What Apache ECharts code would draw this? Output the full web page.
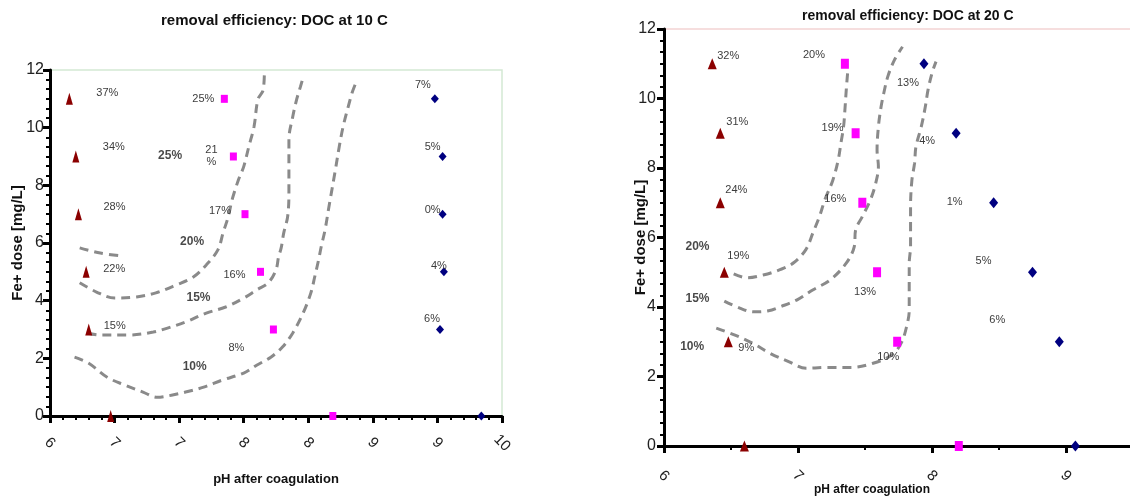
<!DOCTYPE html>
<html>
<head>
<meta charset="utf-8">
<script src="https://cdn.jsdelivr.net/npm/echarts@6/dist/echarts.min.js"></script>
<style>
html, body { margin: 0; padding: 0; background: #fff; }
#main { width: 1130px; height: 499px; }
</style>
</head>
<body>
<div id="main"></div>
<script>
// Fe doses of the jar tests, same for every series
var doses = [11, 9, 7, 5, 3, 0];

// ---- DOC at 10 C ----
var phTri10 = [6.45, 6.50, 6.52, 6.58, 6.60, 6.77];
var effTri10 = ['37%', '34%', '28%', '22%', '15%', ''];
var phSq10 = [7.65, 7.72, 7.81, 7.93, 8.03, 8.49];
var effSq10 = ['25%', '21\n%', '17%', '16%', '8%', ''];
var phDia10 = [9.28, 9.34, 9.34, 9.35, 9.32, 9.64];
var effDia10 = ['7%', '5%', '0%', '4%', '6%', ''];

// hand drawn isolines [pH, dose]
var isoA10 = [[6.53, 5.83], [6.69, 5.65], [6.86, 5.55]];
var isoB10 = [[6.53, 4.62], [6.66, 4.30], [6.80, 4.09], [6.97, 4.13], [7.12, 4.27], [7.28, 4.55], [7.41, 4.82],
  [7.51, 5.24], [7.60, 5.76], [7.64, 6.35], [7.68, 6.91], [7.71, 7.50], [7.76, 8.20], [7.80, 8.65], [7.84, 9.35],
  [7.88, 10.04], [7.91, 10.98], [7.95, 11.30], [7.96, 11.92]];
var isoC10 = [[6.59, 2.88], [6.68, 2.81], [6.91, 2.81], [7.10, 2.91], [7.21, 3.05], [7.35, 3.26], [7.51, 3.57],
  [7.66, 3.78], [7.80, 4.09], [7.90, 4.37], [7.99, 4.62], [8.05, 5.07], [8.07, 5.52], [8.09, 5.83], [8.11, 6.35],
  [8.14, 6.91], [8.15, 7.74], [8.15, 8.65], [8.15, 9.59], [8.18, 10.39], [8.21, 10.98], [8.24, 11.43], [8.26, 11.74]];
var isoD10 = [[6.49, 2.04], [6.60, 1.83], [6.74, 1.35], [6.88, 1.07], [7.02, 0.83], [7.13, 0.65], [7.24, 0.72],
  [7.35, 0.83], [7.49, 1.00], [7.63, 1.24], [7.80, 1.49], [7.90, 1.76], [8.01, 2.04], [8.10, 2.39], [8.18, 2.88],
  [8.26, 3.57], [8.32, 4.27], [8.35, 4.83], [8.38, 5.42], [8.40, 5.87], [8.43, 6.46], [8.46, 7.26], [8.51, 8.54],
  [8.54, 9.35], [8.57, 10.04], [8.61, 10.74], [8.64, 11.22], [8.67, 11.57]];
var isoText10 = [[7.23, 9.03, '25%'], [7.40, 6.03, '20%'], [7.45, 4.09, '15%'], [7.42, 1.70, '10%']];

// ---- DOC at 20 C ----
var phTri20 = [6.36, 6.42, 6.42, 6.45, 6.48, 6.60];
var effTri20 = ['32%', '31%', '24%', '19%', '9%', ''];
var phSq20 = [7.35, 7.43, 7.48, 7.59, 7.74, 8.20];
var effSq20 = ['20%', '19%', '16%', '13%', '10%', ''];
var phDia20 = [7.94, 8.18, 8.46, 8.75, 8.95, 9.07];
var effDia20 = ['13%', '4%', '1%', '5%', '6%', ''];

var isoA20 = [[6.52, 4.95], [6.62, 4.84], [6.74, 4.92], [6.87, 5.08], [6.97, 5.28], [7.06, 5.66], [7.11, 6.12],
  [7.16, 6.60], [7.20, 7.08], [7.26, 7.65], [7.30, 8.23], [7.32, 8.71], [7.34, 9.19], [7.35, 9.67], [7.36, 10.24],
  [7.37, 10.73]];
var isoB20 = [[6.45, 4.17], [6.57, 3.96], [6.67, 3.86], [6.78, 3.89], [6.87, 4.01], [6.99, 4.20], [7.11, 4.49],
  [7.24, 4.78], [7.36, 5.26], [7.42, 5.74], [7.43, 6.22], [7.48, 6.60], [7.54, 7.08], [7.58, 7.56], [7.60, 8.04],
  [7.59, 8.52], [7.60, 9.19], [7.62, 9.76], [7.64, 10.15], [7.67, 10.63], [7.72, 11.11], [7.78, 11.49]];
var isoC20 = [[6.39, 3.39], [6.53, 3.19], [6.66, 2.96], [6.79, 2.67], [6.93, 2.43], [7.06, 2.24], [7.22, 2.26],
  [7.40, 2.26], [7.56, 2.38], [7.70, 2.62], [7.77, 2.96], [7.81, 3.43], [7.83, 3.91], [7.83, 4.68], [7.83, 5.26],
  [7.84, 5.74], [7.84, 6.31], [7.84, 6.89], [7.85, 7.65], [7.87, 8.14], [7.88, 8.61], [7.92, 9.19], [7.95, 9.76],
  [7.97, 10.24], [8.00, 10.73], [8.03, 11.06]];
var isoText20 = [[6.25, 5.73, '20%'], [6.25, 4.25, '15%'], [6.21, 2.86, '10%']];

// label nudges (px) next to the markers
var offTri10 = [[38, -6], [38, -10], [36, -7], [28, -3], [26, -4], [0, 0]];
var offSq10 = [[-21, 0], [-22, -1], [-25, -3], [-26, 3], [-37, 18], [0, 0]];
var offDia10 = [[-12, -14], [-10, -10], [-10, -4], [-5, -6], [-8, -11], [0, 0]];
var offTri20 = [[16, -8], [17, -11], [16, -13], [14, -16], [18, 6], [0, 0]];
var offSq20 = [[-31, -9], [-23, -5], [-27, -4], [-12, 20], [-9, 15], [0, 0]];
var offDia20 = [[-16, 19], [-29, 8], [-39, -1], [-49, -11], [-62, -22], [0, 0]];

var FONT = "'Liberation Sans', Arial, sans-serif";

function marks(xs, texts, offs) {
  return xs.map(function (x, i) {
    return {
      value: [x, doses[i]],
      label: { show: texts[i] !== '', formatter: texts[i], offset: offs[i] }
    };
  });
}

function textMarks(list) {
  return list.map(function (t) {
    return { value: [t[0], t[1]], label: { formatter: t[2] } };
  });
}

function pointSeries(idx, data, symbol, size, color) {
  return {
    type: 'scatter',
    xAxisIndex: idx, yAxisIndex: idx,
    symbol: symbol,
    symbolSize: size,
    itemStyle: { color: color, opacity: 1 },
    label: {
      show: true, position: 'inside', color: '#3c3c3c',
      fontFamily: FONT, fontSize: 11, lineHeight: 12
    },
    data: data,
    z: 4
  };
}

function isoSeries(idx, pts) {
  return {
    type: 'line',
    xAxisIndex: idx, yAxisIndex: idx,
    symbol: 'none',
    smooth: 0.35,
    silent: true,
    lineStyle: { color: '#8a8a8a', width: 3, type: [9, 6] },
    data: pts,
    z: 2
  };
}

function isoLabels(idx, list) {
  return {
    type: 'scatter',
    xAxisIndex: idx, yAxisIndex: idx,
    symbolSize: 0,
    silent: true,
    label: {
      show: true, position: 'inside', color: '#1a1a1a',
      fontFamily: FONT, fontWeight: 'bold', fontSize: 12
    },
    data: textMarks(list),
    z: 5
  };
}

function xAxisDef(idx, min, max, interval, minorSplit, nameGap, margin, nameSize, namePad) {
  return {
    gridIndex: idx, type: 'value', min: min, max: max, interval: interval,
    name: 'pH after coagulation', nameLocation: 'middle', nameGap: nameGap, nameMoveOverlap: false,
    nameTextStyle: { fontFamily: FONT, fontWeight: 'bold', fontSize: nameSize, color: '#111', padding: namePad },
    axisLine: { onZero: false, lineStyle: { color: '#000', width: 3 } },
    axisTick: { length: 7, lineStyle: { color: '#000', width: 3 } },
    minorTick: { show: true, splitNumber: minorSplit, length: 4, lineStyle: { color: '#000', width: 2 } },
    splitLine: { show: false },
    axisLabel: {
      rotate: -45, margin: margin, align: 'center', verticalAlign: 'middle',
      fontFamily: FONT, fontSize: 15, color: '#222',
      formatter: function (v) { return Math.round(v); }
    }
  };
}

function yAxisDef(idx, nameGap, margin) {
  return {
    gridIndex: idx, type: 'value', min: 0, max: 12, interval: 2,
    name: 'Fe+ dose [mg/L]', nameLocation: 'middle', nameGap: nameGap, nameMoveOverlap: false,
    nameTextStyle: { fontFamily: FONT, fontWeight: 'bold', fontSize: 15, color: '#111' },
    axisLine: { lineStyle: { color: '#000', width: 3 } },
    axisTick: { length: 7, lineStyle: { color: '#000', width: 3 } },
    minorTick: { show: true, splitNumber: 6, length: 4, lineStyle: { color: '#000', width: 2 } },
    splitLine: { show: false },
    axisLabel: { margin: margin, fontFamily: FONT, fontSize: 16, color: '#222' }
  };
}

var myChart = echarts.init(document.getElementById('main'));

var option = {
  animation: false,
  backgroundColor: '#fff',
  title: [
    {
      text: 'removal efficiency: DOC at 10 C', left: 161, top: 13, padding: 0,
      textStyle: { fontFamily: FONT, fontWeight: 'bold', fontSize: 15, color: '#111' }
    },
    {
      text: 'removal efficiency: DOC at 20 C', left: 802, top: 9, padding: 0,
      textStyle: { fontFamily: FONT, fontWeight: 'bold', fontSize: 14, color: '#111' }
    }
  ],
  grid: [
    {
      left: 50, top: 70, width: 452, height: 346, outerBoundsMode: 'none', containLabel: false,
      show: true, borderColor: '#d4e9d4', borderWidth: 1.5
    },
    {
      left: 664, top: 29, width: 536, height: 417, outerBoundsMode: 'none', containLabel: false,
      show: true, borderColor: '#f3d3d3', borderWidth: 1.5
    }
  ],
  xAxis: [
    xAxisDef(0, 6.3, 9.8, 0.5, 5, 57, 27, 13, [0, 0, 0, 0]),
    xAxisDef(1, 6, 10, 1, 2, 38, 30, 12, [0, 120, 0, 0])
  ],
  yAxis: [
    yAxisDef(0, 25, 6),
    yAxisDef(1, 16, 8)
  ],
  series: [
    isoSeries(0, isoA10),
    isoSeries(0, isoB10),
    isoSeries(0, isoC10),
    isoSeries(0, isoD10),
    pointSeries(0, marks(phTri10, effTri10, offTri10), 'triangle', [7, 12], '#8b0000'),
    pointSeries(0, marks(phSq10, effSq10, offSq10), 'rect', [7, 8], '#ff00ff'),
    pointSeries(0, marks(phDia10, effDia10, offDia10), 'diamond', [8, 9], '#000080'),
    isoLabels(0, isoText10),

    isoSeries(1, isoA20),
    isoSeries(1, isoB20),
    isoSeries(1, isoC20),
    pointSeries(1, marks(phTri20, effTri20, offTri20), 'triangle', [9, 11], '#8b0000'),
    pointSeries(1, marks(phSq20, effSq20, offSq20), 'rect', [8, 10], '#ff00ff'),
    pointSeries(1, marks(phDia20, effDia20, offDia20), 'diamond', [9, 11], '#000080'),
    isoLabels(1, isoText20)
  ]
};

myChart.setOption(option);
</script>
</body>
</html>
